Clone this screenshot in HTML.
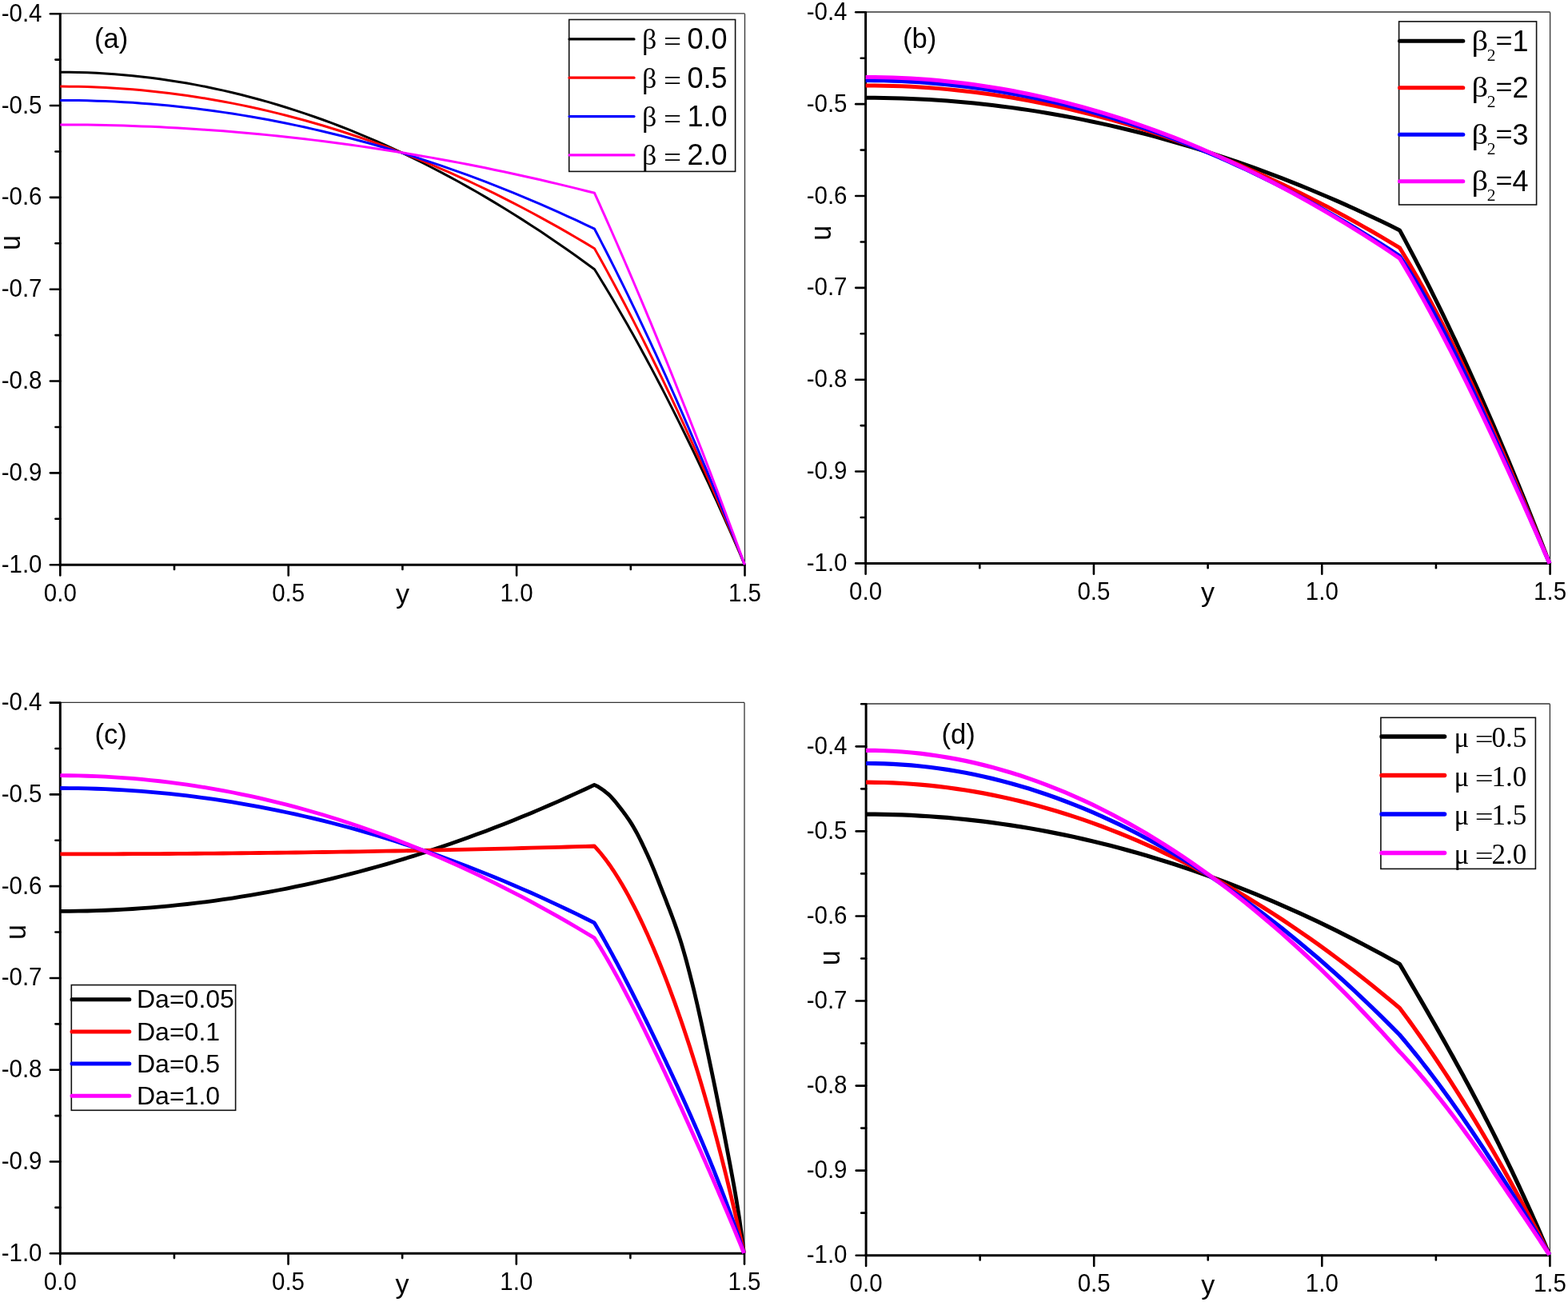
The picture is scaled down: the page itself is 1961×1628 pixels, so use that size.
<!DOCTYPE html><html><head><meta charset="utf-8"><title>Velocity profiles u(y)</title><style>
html,body{margin:0;padding:0;background:#fff;width:1961px;height:1628px;overflow:hidden}
svg{display:block} .tl{font-family:"Liberation Sans", Arial, sans-serif;font-size:29.5px;fill:#000} .ax{font-family:"Liberation Sans", Arial, sans-serif;font-size:34px;fill:#000} .pl{font-family:"Liberation Sans", Arial, sans-serif;font-size:34.5px;fill:#000}
.lg{font-family:"Liberation Sans", Arial, sans-serif;font-size:36px;fill:#000} .sy{font-family:"Liberation Serif", "Times New Roman", serif;font-size:36px;fill:#000}
</style></head><body>
<svg width="1961" height="1628" viewBox="0 0 1961 1628">
<rect x="0" y="0" width="1961" height="1628" fill="#fff"/>
<line x1="75.3" y1="16.9" x2="931.5" y2="16.9" stroke="#333" stroke-width="1.3"/>
<line x1="931.5" y1="17.2" x2="931.5" y2="706.2" stroke="#333" stroke-width="1.3"/>
<line x1="62.9" y1="17.20" x2="75.3" y2="17.20" stroke="#000" stroke-width="2.6" stroke-linecap="round"/>
<text transform="translate(52.5,26.7) scale(1,1.08)" class="tl" text-anchor="end">-0.4</text>
<line x1="62.9" y1="132.03" x2="75.3" y2="132.03" stroke="#000" stroke-width="2.6" stroke-linecap="round"/>
<text transform="translate(52.5,141.5) scale(1,1.08)" class="tl" text-anchor="end">-0.5</text>
<line x1="62.9" y1="246.87" x2="75.3" y2="246.87" stroke="#000" stroke-width="2.6" stroke-linecap="round"/>
<text transform="translate(52.5,256.4) scale(1,1.08)" class="tl" text-anchor="end">-0.6</text>
<line x1="62.9" y1="361.70" x2="75.3" y2="361.70" stroke="#000" stroke-width="2.6" stroke-linecap="round"/>
<text transform="translate(52.5,371.2) scale(1,1.08)" class="tl" text-anchor="end">-0.7</text>
<line x1="62.9" y1="476.53" x2="75.3" y2="476.53" stroke="#000" stroke-width="2.6" stroke-linecap="round"/>
<text transform="translate(52.5,486.0) scale(1,1.08)" class="tl" text-anchor="end">-0.8</text>
<line x1="62.9" y1="591.37" x2="75.3" y2="591.37" stroke="#000" stroke-width="2.6" stroke-linecap="round"/>
<text transform="translate(52.5,600.9) scale(1,1.08)" class="tl" text-anchor="end">-0.9</text>
<line x1="62.9" y1="706.20" x2="75.3" y2="706.20" stroke="#000" stroke-width="2.6" stroke-linecap="round"/>
<text transform="translate(52.5,715.7) scale(1,1.08)" class="tl" text-anchor="end">-1.0</text>
<line x1="69.4" y1="74.62" x2="75.3" y2="74.62" stroke="#000" stroke-width="2.6" stroke-linecap="round"/>
<line x1="69.4" y1="189.45" x2="75.3" y2="189.45" stroke="#000" stroke-width="2.6" stroke-linecap="round"/>
<line x1="69.4" y1="304.28" x2="75.3" y2="304.28" stroke="#000" stroke-width="2.6" stroke-linecap="round"/>
<line x1="69.4" y1="419.12" x2="75.3" y2="419.12" stroke="#000" stroke-width="2.6" stroke-linecap="round"/>
<line x1="69.4" y1="533.95" x2="75.3" y2="533.95" stroke="#000" stroke-width="2.6" stroke-linecap="round"/>
<line x1="69.4" y1="648.78" x2="75.3" y2="648.78" stroke="#000" stroke-width="2.6" stroke-linecap="round"/>
<line x1="75.30" y1="706.2" x2="75.30" y2="719.5" stroke="#000" stroke-width="2.6" stroke-linecap="round"/>
<text transform="translate(75.3,751.8) scale(1,1.08)" class="tl" text-anchor="middle">0.0</text>
<line x1="360.70" y1="706.2" x2="360.70" y2="719.5" stroke="#000" stroke-width="2.6" stroke-linecap="round"/>
<text transform="translate(360.7,751.8) scale(1,1.08)" class="tl" text-anchor="middle">0.5</text>
<line x1="646.10" y1="706.2" x2="646.10" y2="719.5" stroke="#000" stroke-width="2.6" stroke-linecap="round"/>
<text transform="translate(646.1,751.8) scale(1,1.08)" class="tl" text-anchor="middle">1.0</text>
<line x1="931.50" y1="706.2" x2="931.50" y2="719.5" stroke="#000" stroke-width="2.6" stroke-linecap="round"/>
<text transform="translate(931.5,751.8) scale(1,1.08)" class="tl" text-anchor="middle">1.5</text>
<line x1="218.00" y1="706.2" x2="218.00" y2="712.0" stroke="#000" stroke-width="2.6" stroke-linecap="round"/>
<line x1="503.40" y1="706.2" x2="503.40" y2="712.0" stroke="#000" stroke-width="2.6" stroke-linecap="round"/>
<line x1="788.80" y1="706.2" x2="788.80" y2="712.0" stroke="#000" stroke-width="2.6" stroke-linecap="round"/>
<line x1="75.3" y1="16.7" x2="75.3" y2="707.5" stroke="#000" stroke-width="3"/>
<line x1="73.8" y1="706.2" x2="931.5" y2="706.2" stroke="#000" stroke-width="3"/>
<text x="503.4" y="754" class="ax" text-anchor="middle">y</text>
<text class="ax" text-anchor="middle" transform="translate(25.1,303.45) rotate(-90) scale(1,1.06)">u</text>
<text x="118" y="59.5" class="pl">(a)</text>
<path d="M75.30,90.20 L86.63,90.27 L97.95,90.48 L109.28,90.84 L120.60,91.33 L131.93,91.97 L143.25,92.75 L154.58,93.67 L165.90,94.73 L177.23,95.94 L188.55,97.28 L199.88,98.77 L211.21,100.40 L222.53,102.17 L233.86,104.08 L245.18,106.13 L256.51,108.33 L267.83,110.66 L279.16,113.14 L290.48,115.76 L301.81,118.53 L313.13,121.43 L324.46,124.47 L335.78,127.66 L347.11,130.99 L358.44,134.46 L369.76,138.07 L381.09,141.82 L392.41,145.72 L403.74,149.75 L415.06,153.93 L426.39,158.25 L437.71,162.71 L449.04,167.32 L460.36,172.06 L471.69,176.95 L483.02,181.97 L494.34,187.14 L505.67,192.45 L516.99,197.91 L528.32,203.50 L539.64,209.24 L550.97,215.11 L562.29,221.13 L573.62,227.29 L584.94,233.60 L596.27,240.04 L607.59,246.63 L618.92,253.35 L630.25,260.22 L641.57,267.23 L652.90,274.38 L664.22,281.68 L675.55,289.11 L686.87,296.69 L698.20,304.41 L709.52,312.27 L720.85,320.27 L732.17,328.41 L743.50,336.70 L746.68,341.82 L749.87,346.97 L753.05,352.17 L756.23,357.40 L759.42,362.68 L762.60,367.99 L765.78,373.35 L768.96,378.74 L772.15,384.17 L775.33,389.64 L778.51,395.15 L781.70,400.70 L784.88,406.29 L788.06,411.92 L791.25,417.59 L794.43,423.30 L797.61,429.05 L800.79,434.83 L803.98,440.66 L807.16,446.52 L810.34,452.43 L813.53,458.37 L816.71,464.36 L819.89,470.38 L823.08,476.44 L826.26,482.54 L829.44,488.68 L832.63,494.86 L835.81,501.08 L838.99,507.34 L842.17,513.64 L845.36,519.98 L848.54,526.36 L851.72,532.78 L854.91,539.23 L858.09,545.73 L861.27,552.26 L864.46,558.84 L867.64,565.45 L870.82,572.10 L874.01,578.80 L877.19,585.53 L880.37,592.30 L883.55,599.11 L886.74,605.96 L889.92,612.85 L893.10,619.78 L896.29,626.75 L899.47,633.76 L902.65,640.80 L905.84,647.89 L909.02,655.02 L912.20,662.18 L915.38,669.39 L918.57,676.63 L921.75,683.91 L924.93,691.24 L928.12,698.60 L931.30,706.00" fill="none" stroke="#000000" stroke-width="3" stroke-linejoin="round"/>
<path d="M75.30,108.10 L86.63,108.16 L97.95,108.33 L109.28,108.62 L120.60,109.03 L131.93,109.56 L143.25,110.20 L154.58,110.95 L165.90,111.82 L177.23,112.81 L188.55,113.92 L199.88,115.14 L211.21,116.48 L222.53,117.94 L233.86,119.51 L245.18,121.20 L256.51,123.00 L267.83,124.92 L279.16,126.96 L290.48,129.11 L301.81,131.38 L313.13,133.77 L324.46,136.27 L335.78,138.89 L347.11,141.62 L358.44,144.48 L369.76,147.44 L381.09,150.53 L392.41,153.73 L403.74,157.05 L415.06,160.48 L426.39,164.03 L437.71,167.70 L449.04,171.48 L460.36,175.38 L471.69,179.40 L483.02,183.53 L494.34,187.78 L505.67,192.14 L516.99,196.62 L528.32,201.22 L539.64,205.94 L550.97,210.77 L562.29,215.71 L573.62,220.78 L584.94,225.96 L596.27,231.25 L607.59,236.67 L618.92,242.20 L630.25,247.84 L641.57,253.60 L652.90,259.48 L664.22,265.48 L675.55,271.59 L686.87,277.82 L698.20,284.16 L709.52,290.62 L720.85,297.20 L732.17,303.89 L743.50,310.70 L746.68,316.37 L749.87,322.07 L753.05,327.80 L756.23,333.57 L759.42,339.38 L762.60,345.23 L765.78,351.10 L768.96,357.02 L772.15,362.97 L775.33,368.96 L778.51,374.98 L781.70,381.04 L784.88,387.13 L788.06,393.26 L791.25,399.42 L794.43,405.62 L797.61,411.86 L800.79,418.13 L803.98,424.44 L807.16,430.78 L810.34,437.16 L813.53,443.58 L816.71,450.03 L819.89,456.51 L823.08,463.03 L826.26,469.59 L829.44,476.18 L832.63,482.81 L835.81,489.48 L838.99,496.18 L842.17,502.91 L845.36,509.68 L848.54,516.49 L851.72,523.33 L854.91,530.21 L858.09,537.13 L861.27,544.08 L864.46,551.06 L867.64,558.08 L870.82,565.14 L874.01,572.23 L877.19,579.36 L880.37,586.52 L883.55,593.72 L886.74,600.96 L889.92,608.23 L893.10,615.54 L896.29,622.88 L899.47,630.26 L902.65,637.67 L905.84,645.12 L909.02,652.60 L912.20,660.13 L915.38,667.68 L918.57,675.27 L921.75,682.90 L924.93,690.57 L928.12,698.27 L931.30,706.00" fill="none" stroke="#ff0000" stroke-width="3" stroke-linejoin="round"/>
<path d="M75.30,125.40 L86.63,125.45 L97.95,125.58 L109.28,125.82 L120.60,126.14 L131.93,126.55 L143.25,127.06 L154.58,127.66 L165.90,128.36 L177.23,129.14 L188.55,130.02 L199.88,130.99 L211.21,132.05 L222.53,133.21 L233.86,134.45 L245.18,135.79 L256.51,137.23 L267.83,138.75 L279.16,140.37 L290.48,142.08 L301.81,143.88 L313.13,145.77 L324.46,147.76 L335.78,149.84 L347.11,152.01 L358.44,154.27 L369.76,156.63 L381.09,159.08 L392.41,161.62 L403.74,164.25 L415.06,166.97 L426.39,169.79 L437.71,172.70 L449.04,175.70 L460.36,178.80 L471.69,181.99 L483.02,185.27 L494.34,188.64 L505.67,192.10 L516.99,195.66 L528.32,199.31 L539.64,203.05 L550.97,206.89 L562.29,210.81 L573.62,214.83 L584.94,218.94 L596.27,223.15 L607.59,227.44 L618.92,231.83 L630.25,236.31 L641.57,240.88 L652.90,245.55 L664.22,250.31 L675.55,255.16 L686.87,260.10 L698.20,265.14 L709.52,270.26 L720.85,275.48 L732.17,280.80 L743.50,286.20 L746.68,292.29 L749.87,298.42 L753.05,304.59 L756.23,310.79 L759.42,317.03 L762.60,323.30 L765.78,329.60 L768.96,335.94 L772.15,342.32 L775.33,348.73 L778.51,355.18 L781.70,361.66 L784.88,368.18 L788.06,374.73 L791.25,381.32 L794.43,387.94 L797.61,394.60 L800.79,401.29 L803.98,408.02 L807.16,414.78 L810.34,421.58 L813.53,428.41 L816.71,435.28 L819.89,442.19 L823.08,449.13 L826.26,456.10 L829.44,463.11 L832.63,470.16 L835.81,477.24 L838.99,484.35 L842.17,491.50 L845.36,498.69 L848.54,505.91 L851.72,513.16 L854.91,520.46 L858.09,527.78 L861.27,535.14 L864.46,542.54 L867.64,549.97 L870.82,557.44 L874.01,564.94 L877.19,572.48 L880.37,580.05 L883.55,587.66 L886.74,595.30 L889.92,602.98 L893.10,610.69 L896.29,618.44 L899.47,626.23 L902.65,634.05 L905.84,641.90 L909.02,649.79 L912.20,657.71 L915.38,665.67 L918.57,673.67 L921.75,681.70 L924.93,689.76 L928.12,697.86 L931.30,706.00" fill="none" stroke="#0000ff" stroke-width="3" stroke-linejoin="round"/>
<path d="M75.30,155.90 L86.63,155.92 L97.95,156.00 L109.28,156.12 L120.60,156.29 L131.93,156.51 L143.25,156.78 L154.58,157.10 L165.90,157.47 L177.23,157.89 L188.55,158.35 L199.88,158.87 L211.21,159.43 L222.53,160.05 L233.86,160.71 L245.18,161.42 L256.51,162.18 L267.83,162.99 L279.16,163.85 L290.48,164.76 L301.81,165.71 L313.13,166.72 L324.46,167.77 L335.78,168.88 L347.11,170.03 L358.44,171.23 L369.76,172.48 L381.09,173.78 L392.41,175.13 L403.74,176.53 L415.06,177.98 L426.39,179.48 L437.71,181.02 L449.04,182.62 L460.36,184.26 L471.69,185.95 L483.02,187.70 L494.34,189.49 L505.67,191.33 L516.99,193.21 L528.32,195.15 L539.64,197.14 L550.97,199.18 L562.29,201.26 L573.62,203.40 L584.94,205.58 L596.27,207.81 L607.59,210.09 L618.92,212.42 L630.25,214.80 L641.57,217.23 L652.90,219.71 L664.22,222.24 L675.55,224.81 L686.87,227.44 L698.20,230.11 L709.52,232.84 L720.85,235.61 L732.17,238.43 L743.50,241.30 L746.68,248.35 L749.87,255.42 L753.05,262.53 L756.23,269.66 L759.42,276.82 L762.60,284.01 L765.78,291.23 L768.96,298.48 L772.15,305.76 L775.33,313.06 L778.51,320.39 L781.70,327.75 L784.88,335.15 L788.06,342.56 L791.25,350.01 L794.43,357.49 L797.61,364.99 L800.79,372.53 L803.98,380.09 L807.16,387.68 L810.34,395.30 L813.53,402.94 L816.71,410.62 L819.89,418.33 L823.08,426.06 L826.26,433.82 L829.44,441.61 L832.63,449.43 L835.81,457.28 L838.99,465.15 L842.17,473.06 L845.36,480.99 L848.54,488.96 L851.72,496.95 L854.91,504.96 L858.09,513.01 L861.27,521.09 L864.46,529.19 L867.64,537.33 L870.82,545.49 L874.01,553.68 L877.19,561.90 L880.37,570.15 L883.55,578.42 L886.74,586.73 L889.92,595.06 L893.10,603.42 L896.29,611.82 L899.47,620.23 L902.65,628.68 L905.84,637.16 L909.02,645.66 L912.20,654.20 L915.38,662.76 L918.57,671.35 L921.75,679.97 L924.93,688.62 L928.12,697.29 L931.30,706.00" fill="none" stroke="#ff00ff" stroke-width="3" stroke-linejoin="round"/>
<rect x="711.7" y="24.5" width="207.9" height="189.9" fill="#fff" stroke="#111" stroke-width="1.6"/>
<line x1="712" y1="48.9" x2="793" y2="48.9" stroke="#000000" stroke-width="3.2" stroke-linecap="round"/>
<text x="803" y="61.2" class="sy">β</text>
<text transform="translate(830,64.2) scale(1.09,1)" class="sy">=</text>
<text x="859.4" y="61.2" class="lg">0.0</text>
<line x1="712" y1="97.2" x2="793" y2="97.2" stroke="#ff0000" stroke-width="3.2" stroke-linecap="round"/>
<text x="803" y="109.5" class="sy">β</text>
<text transform="translate(830,112.5) scale(1.09,1)" class="sy">=</text>
<text x="859.4" y="109.5" class="lg">0.5</text>
<line x1="712" y1="145.6" x2="793" y2="145.6" stroke="#0000ff" stroke-width="3.2" stroke-linecap="round"/>
<text x="803" y="157.9" class="sy">β</text>
<text transform="translate(830,160.9) scale(1.09,1)" class="sy">=</text>
<text x="859.4" y="157.9" class="lg">1.0</text>
<line x1="712" y1="193.9" x2="793" y2="193.9" stroke="#ff00ff" stroke-width="3.2" stroke-linecap="round"/>
<text x="803" y="206.2" class="sy">β</text>
<text transform="translate(830,209.2) scale(1.09,1)" class="sy">=</text>
<text x="859.4" y="206.2" class="lg">2.0</text>
<line x1="1082.6" y1="15.0" x2="1938.6" y2="15.0" stroke="#333" stroke-width="1.3"/>
<line x1="1938.6" y1="15.3" x2="1938.6" y2="704.4" stroke="#333" stroke-width="1.3"/>
<line x1="1070.2" y1="15.30" x2="1082.6" y2="15.30" stroke="#000" stroke-width="2.6" stroke-linecap="round"/>
<text transform="translate(1059.5,24.8) scale(1,1.08)" class="tl" text-anchor="end">-0.4</text>
<line x1="1070.2" y1="130.15" x2="1082.6" y2="130.15" stroke="#000" stroke-width="2.6" stroke-linecap="round"/>
<text transform="translate(1059.5,139.6) scale(1,1.08)" class="tl" text-anchor="end">-0.5</text>
<line x1="1070.2" y1="245.00" x2="1082.6" y2="245.00" stroke="#000" stroke-width="2.6" stroke-linecap="round"/>
<text transform="translate(1059.5,254.5) scale(1,1.08)" class="tl" text-anchor="end">-0.6</text>
<line x1="1070.2" y1="359.85" x2="1082.6" y2="359.85" stroke="#000" stroke-width="2.6" stroke-linecap="round"/>
<text transform="translate(1059.5,369.3) scale(1,1.08)" class="tl" text-anchor="end">-0.7</text>
<line x1="1070.2" y1="474.70" x2="1082.6" y2="474.70" stroke="#000" stroke-width="2.6" stroke-linecap="round"/>
<text transform="translate(1059.5,484.2) scale(1,1.08)" class="tl" text-anchor="end">-0.8</text>
<line x1="1070.2" y1="589.55" x2="1082.6" y2="589.55" stroke="#000" stroke-width="2.6" stroke-linecap="round"/>
<text transform="translate(1059.5,599.0) scale(1,1.08)" class="tl" text-anchor="end">-0.9</text>
<line x1="1070.2" y1="704.40" x2="1082.6" y2="704.40" stroke="#000" stroke-width="2.6" stroke-linecap="round"/>
<text transform="translate(1059.5,713.9) scale(1,1.08)" class="tl" text-anchor="end">-1.0</text>
<line x1="1076.7" y1="72.72" x2="1082.6" y2="72.72" stroke="#000" stroke-width="2.6" stroke-linecap="round"/>
<line x1="1076.7" y1="187.58" x2="1082.6" y2="187.58" stroke="#000" stroke-width="2.6" stroke-linecap="round"/>
<line x1="1076.7" y1="302.43" x2="1082.6" y2="302.43" stroke="#000" stroke-width="2.6" stroke-linecap="round"/>
<line x1="1076.7" y1="417.27" x2="1082.6" y2="417.27" stroke="#000" stroke-width="2.6" stroke-linecap="round"/>
<line x1="1076.7" y1="532.12" x2="1082.6" y2="532.12" stroke="#000" stroke-width="2.6" stroke-linecap="round"/>
<line x1="1076.7" y1="646.97" x2="1082.6" y2="646.97" stroke="#000" stroke-width="2.6" stroke-linecap="round"/>
<line x1="1082.60" y1="704.4" x2="1082.60" y2="717.7" stroke="#000" stroke-width="2.6" stroke-linecap="round"/>
<text transform="translate(1082.6,750.3) scale(1,1.08)" class="tl" text-anchor="middle">0.0</text>
<line x1="1367.93" y1="704.4" x2="1367.93" y2="717.7" stroke="#000" stroke-width="2.6" stroke-linecap="round"/>
<text transform="translate(1367.9,750.3) scale(1,1.08)" class="tl" text-anchor="middle">0.5</text>
<line x1="1653.27" y1="704.4" x2="1653.27" y2="717.7" stroke="#000" stroke-width="2.6" stroke-linecap="round"/>
<text transform="translate(1653.3,750.3) scale(1,1.08)" class="tl" text-anchor="middle">1.0</text>
<line x1="1938.60" y1="704.4" x2="1938.60" y2="717.7" stroke="#000" stroke-width="2.6" stroke-linecap="round"/>
<text transform="translate(1938.6,750.3) scale(1,1.08)" class="tl" text-anchor="middle">1.5</text>
<line x1="1225.27" y1="704.4" x2="1225.27" y2="710.2" stroke="#000" stroke-width="2.6" stroke-linecap="round"/>
<line x1="1510.60" y1="704.4" x2="1510.60" y2="710.2" stroke="#000" stroke-width="2.6" stroke-linecap="round"/>
<line x1="1795.93" y1="704.4" x2="1795.93" y2="710.2" stroke="#000" stroke-width="2.6" stroke-linecap="round"/>
<line x1="1082.6" y1="14.8" x2="1082.6" y2="705.7" stroke="#000" stroke-width="3"/>
<line x1="1081.1" y1="704.4" x2="1938.6" y2="704.4" stroke="#000" stroke-width="3"/>
<text x="1510.6" y="752" class="ax" text-anchor="middle">y</text>
<text class="ax" text-anchor="middle" transform="translate(1038.7,291.35) rotate(-90) scale(1,1.06)">u</text>
<text x="1129" y="60" class="pl">(b)</text>
<path d="M1082.60,122.20 L1093.92,122.25 L1105.24,122.39 L1116.56,122.63 L1127.88,122.96 L1139.20,123.39 L1150.52,123.91 L1161.84,124.53 L1173.16,125.25 L1184.48,126.06 L1195.80,126.96 L1207.12,127.96 L1218.44,129.05 L1229.76,130.24 L1241.08,131.53 L1252.41,132.91 L1263.73,134.39 L1275.05,135.96 L1286.37,137.62 L1297.69,139.38 L1309.01,141.24 L1320.33,143.19 L1331.65,145.24 L1342.97,147.38 L1354.29,149.62 L1365.61,151.95 L1376.93,154.38 L1388.25,156.90 L1399.57,159.52 L1410.89,162.23 L1422.21,165.04 L1433.53,167.94 L1444.85,170.94 L1456.17,174.04 L1467.49,177.23 L1478.81,180.51 L1490.13,183.89 L1501.45,187.37 L1512.77,190.94 L1524.09,194.60 L1535.41,198.36 L1546.73,202.22 L1558.05,206.17 L1569.37,210.21 L1580.69,214.36 L1592.02,218.59 L1603.34,222.92 L1614.66,227.35 L1625.98,231.87 L1637.30,236.49 L1648.62,241.20 L1659.94,246.01 L1671.26,250.91 L1682.58,255.91 L1693.90,261.01 L1705.22,266.19 L1716.54,271.48 L1727.86,276.86 L1739.18,282.33 L1750.50,287.90 L1753.68,293.76 L1756.86,299.67 L1760.03,305.61 L1763.21,311.60 L1766.39,317.63 L1769.57,323.70 L1772.75,329.81 L1775.92,335.96 L1779.10,342.16 L1782.28,348.39 L1785.46,354.67 L1788.64,360.98 L1791.81,367.34 L1794.99,373.74 L1798.17,380.18 L1801.35,386.66 L1804.53,393.19 L1807.70,399.75 L1810.88,406.36 L1814.06,413.01 L1817.24,419.70 L1820.42,426.43 L1823.59,433.20 L1826.77,440.01 L1829.95,446.86 L1833.13,453.76 L1836.31,460.70 L1839.48,467.67 L1842.66,474.69 L1845.84,481.76 L1849.02,488.86 L1852.19,496.00 L1855.37,503.19 L1858.55,510.42 L1861.73,517.68 L1864.91,524.99 L1868.08,532.35 L1871.26,539.74 L1874.44,547.17 L1877.62,554.65 L1880.80,562.17 L1883.97,569.73 L1887.15,577.33 L1890.33,584.97 L1893.51,592.65 L1896.69,600.38 L1899.86,608.15 L1903.04,615.95 L1906.22,623.80 L1909.40,631.70 L1912.58,639.63 L1915.75,647.61 L1918.93,655.62 L1922.11,663.68 L1925.29,671.78 L1928.47,679.92 L1931.64,688.11 L1934.82,696.33 L1938.00,704.60" fill="none" stroke="#000000" stroke-width="5" stroke-linejoin="round"/>
<path d="M1082.60,106.90 L1093.92,106.96 L1105.24,107.13 L1116.56,107.42 L1127.88,107.83 L1139.20,108.36 L1150.52,109.00 L1161.84,109.76 L1173.16,110.63 L1184.48,111.62 L1195.80,112.73 L1207.12,113.96 L1218.44,115.30 L1229.76,116.76 L1241.08,118.33 L1252.41,120.02 L1263.73,121.83 L1275.05,123.75 L1286.37,125.79 L1297.69,127.95 L1309.01,130.23 L1320.33,132.62 L1331.65,135.13 L1342.97,137.75 L1354.29,140.49 L1365.61,143.35 L1376.93,146.32 L1388.25,149.41 L1399.57,152.62 L1410.89,155.94 L1422.21,159.38 L1433.53,162.94 L1444.85,166.62 L1456.17,170.41 L1467.49,174.31 L1478.81,178.34 L1490.13,182.48 L1501.45,186.74 L1512.77,191.11 L1524.09,195.60 L1535.41,200.21 L1546.73,204.93 L1558.05,209.77 L1569.37,214.73 L1580.69,219.80 L1592.02,224.99 L1603.34,230.30 L1614.66,235.72 L1625.98,241.26 L1637.30,246.92 L1648.62,252.69 L1659.94,258.58 L1671.26,264.59 L1682.58,270.71 L1693.90,276.95 L1705.22,283.31 L1716.54,289.78 L1727.86,296.37 L1739.18,303.08 L1750.50,309.90 L1753.68,315.03 L1756.86,320.22 L1760.03,325.49 L1763.21,330.83 L1766.39,336.24 L1769.57,341.72 L1772.75,347.27 L1775.92,352.88 L1779.10,358.56 L1782.28,364.30 L1785.46,370.11 L1788.64,375.98 L1791.81,381.91 L1794.99,387.90 L1798.17,393.95 L1801.35,400.06 L1804.53,406.23 L1807.70,412.46 L1810.88,418.74 L1814.06,425.08 L1817.24,431.47 L1820.42,437.91 L1823.59,444.40 L1826.77,450.95 L1829.95,457.55 L1833.13,464.19 L1836.31,470.88 L1839.48,477.63 L1842.66,484.41 L1845.84,491.24 L1849.02,498.12 L1852.19,505.04 L1855.37,512.00 L1858.55,519.00 L1861.73,526.04 L1864.91,533.13 L1868.08,540.25 L1871.26,547.40 L1874.44,554.60 L1877.62,561.83 L1880.80,569.09 L1883.97,576.39 L1887.15,583.72 L1890.33,591.08 L1893.51,598.47 L1896.69,605.89 L1899.86,613.34 L1903.04,620.82 L1906.22,628.32 L1909.40,635.85 L1912.58,643.40 L1915.75,650.98 L1918.93,658.58 L1922.11,666.20 L1925.29,673.84 L1928.47,681.51 L1931.64,689.19 L1934.82,696.88 L1938.00,704.60" fill="none" stroke="#ff0000" stroke-width="5" stroke-linejoin="round"/>
<path d="M1082.60,100.60 L1093.92,100.66 L1105.24,100.85 L1116.56,101.17 L1127.88,101.61 L1139.20,102.18 L1150.52,102.87 L1161.84,103.69 L1173.16,104.64 L1184.48,105.71 L1195.80,106.91 L1207.12,108.23 L1218.44,109.68 L1229.76,111.26 L1241.08,112.96 L1252.41,114.79 L1263.73,116.74 L1275.05,118.82 L1286.37,121.03 L1297.69,123.36 L1309.01,125.82 L1320.33,128.41 L1331.65,131.12 L1342.97,133.96 L1354.29,136.92 L1365.61,140.01 L1376.93,143.23 L1388.25,146.57 L1399.57,150.04 L1410.89,153.63 L1422.21,157.35 L1433.53,161.20 L1444.85,165.17 L1456.17,169.27 L1467.49,173.49 L1478.81,177.84 L1490.13,182.32 L1501.45,186.92 L1512.77,191.65 L1524.09,196.51 L1535.41,201.49 L1546.73,206.60 L1558.05,211.83 L1569.37,217.19 L1580.69,222.68 L1592.02,228.29 L1603.34,234.03 L1614.66,239.89 L1625.98,245.88 L1637.30,252.00 L1648.62,258.24 L1659.94,264.61 L1671.26,271.11 L1682.58,277.73 L1693.90,284.47 L1705.22,291.35 L1716.54,298.35 L1727.86,305.47 L1739.18,312.72 L1750.50,320.10 L1753.68,324.84 L1756.86,329.67 L1760.03,334.59 L1763.21,339.61 L1766.39,344.71 L1769.57,349.91 L1772.75,355.18 L1775.92,360.54 L1779.10,365.99 L1782.28,371.51 L1785.46,377.11 L1788.64,382.79 L1791.81,388.55 L1794.99,394.38 L1798.17,400.28 L1801.35,406.25 L1804.53,412.29 L1807.70,418.39 L1810.88,424.56 L1814.06,430.80 L1817.24,437.09 L1820.42,443.44 L1823.59,449.86 L1826.77,456.32 L1829.95,462.85 L1833.13,469.42 L1836.31,476.05 L1839.48,482.72 L1842.66,489.45 L1845.84,496.22 L1849.02,503.03 L1852.19,509.88 L1855.37,516.78 L1858.55,523.71 L1861.73,530.68 L1864.91,537.69 L1868.08,544.73 L1871.26,551.80 L1874.44,558.91 L1877.62,566.04 L1880.80,573.19 L1883.97,580.38 L1887.15,587.58 L1890.33,594.81 L1893.51,602.05 L1896.69,609.32 L1899.86,616.60 L1903.04,623.89 L1906.22,631.20 L1909.40,638.52 L1912.58,645.85 L1915.75,653.18 L1918.93,660.53 L1922.11,667.87 L1925.29,675.22 L1928.47,682.57 L1931.64,689.92 L1934.82,697.26 L1938.00,704.60" fill="none" stroke="#0000ff" stroke-width="5" stroke-linejoin="round"/>
<path d="M1082.60,96.40 L1093.92,96.47 L1105.24,96.66 L1116.56,96.99 L1127.88,97.44 L1139.20,98.03 L1150.52,98.74 L1161.84,99.59 L1173.16,100.57 L1184.48,101.68 L1195.80,102.91 L1207.12,104.28 L1218.44,105.78 L1229.76,107.41 L1241.08,109.16 L1252.41,111.05 L1263.73,113.07 L1275.05,115.22 L1286.37,117.50 L1297.69,119.91 L1309.01,122.45 L1320.33,125.12 L1331.65,127.92 L1342.97,130.85 L1354.29,133.91 L1365.61,137.10 L1376.93,140.42 L1388.25,143.88 L1399.57,147.46 L1410.89,151.17 L1422.21,155.01 L1433.53,158.99 L1444.85,163.09 L1456.17,167.32 L1467.49,171.68 L1478.81,176.18 L1490.13,180.80 L1501.45,185.56 L1512.77,190.44 L1524.09,195.46 L1535.41,200.60 L1546.73,205.88 L1558.05,211.28 L1569.37,216.82 L1580.69,222.48 L1592.02,228.28 L1603.34,234.20 L1614.66,240.26 L1625.98,246.45 L1637.30,252.77 L1648.62,259.21 L1659.94,265.79 L1671.26,272.50 L1682.58,279.34 L1693.90,286.30 L1705.22,293.40 L1716.54,300.63 L1727.86,307.99 L1739.18,315.48 L1750.50,323.10 L1753.68,328.40 L1756.86,333.75 L1760.03,339.15 L1763.21,344.61 L1766.39,350.11 L1769.57,355.67 L1772.75,361.28 L1775.92,366.94 L1779.10,372.65 L1782.28,378.40 L1785.46,384.21 L1788.64,390.05 L1791.81,395.95 L1794.99,401.89 L1798.17,407.88 L1801.35,413.91 L1804.53,419.98 L1807.70,426.09 L1810.88,432.25 L1814.06,438.45 L1817.24,444.69 L1820.42,450.97 L1823.59,457.28 L1826.77,463.64 L1829.95,470.03 L1833.13,476.46 L1836.31,482.92 L1839.48,489.43 L1842.66,495.96 L1845.84,502.53 L1849.02,509.13 L1852.19,515.77 L1855.37,522.43 L1858.55,529.13 L1861.73,535.86 L1864.91,542.62 L1868.08,549.41 L1871.26,556.22 L1874.44,563.06 L1877.62,569.93 L1880.80,576.83 L1883.97,583.75 L1887.15,590.69 L1890.33,597.66 L1893.51,604.66 L1896.69,611.67 L1899.86,618.71 L1903.04,625.77 L1906.22,632.85 L1909.40,639.94 L1912.58,647.06 L1915.75,654.20 L1918.93,661.35 L1922.11,668.52 L1925.29,675.71 L1928.47,682.91 L1931.64,690.13 L1934.82,697.36 L1938.00,704.60" fill="none" stroke="#ff00ff" stroke-width="5" stroke-linejoin="round"/>
<rect x="1749.6" y="26.9" width="172" height="229.1" fill="#fff" stroke="#111" stroke-width="1.6"/>
<line x1="1750.5" y1="51.2" x2="1829.8" y2="51.2" stroke="#000000" stroke-width="5" stroke-linecap="round"/>
<text transform="translate(1840.6,62.8) scale(1.13,1)" class="sy">β</text>
<text x="1859.7" y="75.6" class="sy" style="font-size:21.5px">2</text>
<text transform="translate(1870.5,60.7) scale(1,0.85)" class="lg">=</text>
<text x="1891.5" y="63.8" class="lg">1</text>
<line x1="1750.5" y1="109.7" x2="1829.8" y2="109.7" stroke="#ff0000" stroke-width="5" stroke-linecap="round"/>
<text transform="translate(1840.6,121.3) scale(1.13,1)" class="sy">β</text>
<text x="1859.7" y="134.1" class="sy" style="font-size:21.5px">2</text>
<text transform="translate(1870.5,119.2) scale(1,0.85)" class="lg">=</text>
<text x="1891.5" y="122.3" class="lg">2</text>
<line x1="1750.5" y1="168.3" x2="1829.8" y2="168.3" stroke="#0000ff" stroke-width="5" stroke-linecap="round"/>
<text transform="translate(1840.6,179.9) scale(1.13,1)" class="sy">β</text>
<text x="1859.7" y="192.7" class="sy" style="font-size:21.5px">2</text>
<text transform="translate(1870.5,177.8) scale(1,0.85)" class="lg">=</text>
<text x="1891.5" y="180.9" class="lg">3</text>
<line x1="1750.5" y1="226.8" x2="1829.8" y2="226.8" stroke="#ff00ff" stroke-width="5" stroke-linecap="round"/>
<text transform="translate(1840.6,238.4) scale(1.13,1)" class="sy">β</text>
<text x="1859.7" y="251.2" class="sy" style="font-size:21.5px">2</text>
<text transform="translate(1870.5,236.3) scale(1,0.85)" class="lg">=</text>
<text x="1891.5" y="239.4" class="lg">4</text>
<line x1="75.3" y1="878.3" x2="931.0" y2="878.3" stroke="#333" stroke-width="1.3"/>
<line x1="931.0" y1="878.6" x2="931.0" y2="1567.3" stroke="#333" stroke-width="1.3"/>
<line x1="62.9" y1="878.60" x2="75.3" y2="878.60" stroke="#000" stroke-width="2.6" stroke-linecap="round"/>
<text transform="translate(52.5,888.1) scale(1,1.08)" class="tl" text-anchor="end">-0.4</text>
<line x1="62.9" y1="993.38" x2="75.3" y2="993.38" stroke="#000" stroke-width="2.6" stroke-linecap="round"/>
<text transform="translate(52.5,1002.9) scale(1,1.08)" class="tl" text-anchor="end">-0.5</text>
<line x1="62.9" y1="1108.17" x2="75.3" y2="1108.17" stroke="#000" stroke-width="2.6" stroke-linecap="round"/>
<text transform="translate(52.5,1117.7) scale(1,1.08)" class="tl" text-anchor="end">-0.6</text>
<line x1="62.9" y1="1222.95" x2="75.3" y2="1222.95" stroke="#000" stroke-width="2.6" stroke-linecap="round"/>
<text transform="translate(52.5,1232.4) scale(1,1.08)" class="tl" text-anchor="end">-0.7</text>
<line x1="62.9" y1="1337.73" x2="75.3" y2="1337.73" stroke="#000" stroke-width="2.6" stroke-linecap="round"/>
<text transform="translate(52.5,1347.2) scale(1,1.08)" class="tl" text-anchor="end">-0.8</text>
<line x1="62.9" y1="1452.52" x2="75.3" y2="1452.52" stroke="#000" stroke-width="2.6" stroke-linecap="round"/>
<text transform="translate(52.5,1462.0) scale(1,1.08)" class="tl" text-anchor="end">-0.9</text>
<line x1="62.9" y1="1567.30" x2="75.3" y2="1567.30" stroke="#000" stroke-width="2.6" stroke-linecap="round"/>
<text transform="translate(52.5,1576.8) scale(1,1.08)" class="tl" text-anchor="end">-1.0</text>
<line x1="69.4" y1="935.99" x2="75.3" y2="935.99" stroke="#000" stroke-width="2.6" stroke-linecap="round"/>
<line x1="69.4" y1="1050.78" x2="75.3" y2="1050.78" stroke="#000" stroke-width="2.6" stroke-linecap="round"/>
<line x1="69.4" y1="1165.56" x2="75.3" y2="1165.56" stroke="#000" stroke-width="2.6" stroke-linecap="round"/>
<line x1="69.4" y1="1280.34" x2="75.3" y2="1280.34" stroke="#000" stroke-width="2.6" stroke-linecap="round"/>
<line x1="69.4" y1="1395.12" x2="75.3" y2="1395.12" stroke="#000" stroke-width="2.6" stroke-linecap="round"/>
<line x1="69.4" y1="1509.91" x2="75.3" y2="1509.91" stroke="#000" stroke-width="2.6" stroke-linecap="round"/>
<line x1="75.30" y1="1567.3" x2="75.30" y2="1580.6" stroke="#000" stroke-width="2.6" stroke-linecap="round"/>
<text transform="translate(75.3,1613.0) scale(1,1.08)" class="tl" text-anchor="middle">0.0</text>
<line x1="360.53" y1="1567.3" x2="360.53" y2="1580.6" stroke="#000" stroke-width="2.6" stroke-linecap="round"/>
<text transform="translate(360.5,1613.0) scale(1,1.08)" class="tl" text-anchor="middle">0.5</text>
<line x1="645.77" y1="1567.3" x2="645.77" y2="1580.6" stroke="#000" stroke-width="2.6" stroke-linecap="round"/>
<text transform="translate(645.8,1613.0) scale(1,1.08)" class="tl" text-anchor="middle">1.0</text>
<line x1="931.00" y1="1567.3" x2="931.00" y2="1580.6" stroke="#000" stroke-width="2.6" stroke-linecap="round"/>
<text transform="translate(931.0,1613.0) scale(1,1.08)" class="tl" text-anchor="middle">1.5</text>
<line x1="217.92" y1="1567.3" x2="217.92" y2="1573.1" stroke="#000" stroke-width="2.6" stroke-linecap="round"/>
<line x1="503.15" y1="1567.3" x2="503.15" y2="1573.1" stroke="#000" stroke-width="2.6" stroke-linecap="round"/>
<line x1="788.38" y1="1567.3" x2="788.38" y2="1573.1" stroke="#000" stroke-width="2.6" stroke-linecap="round"/>
<line x1="75.3" y1="878.1" x2="75.3" y2="1568.6" stroke="#000" stroke-width="3"/>
<line x1="73.8" y1="1567.3" x2="931.0" y2="1567.3" stroke="#000" stroke-width="3"/>
<text x="503.1" y="1617.2" class="ax" text-anchor="middle">y</text>
<text class="ax" text-anchor="middle" transform="translate(31.6,1165.6) rotate(-90) scale(1,1.06)">u</text>
<text x="118.5" y="930" class="pl">(c)</text>
<path d="M75.30,1139.40 L86.62,1139.35 L97.94,1139.22 L109.27,1138.99 L120.59,1138.67 L131.91,1138.27 L143.23,1137.77 L154.55,1137.18 L165.88,1136.50 L177.20,1135.72 L188.52,1134.86 L199.84,1133.91 L211.16,1132.86 L222.49,1131.73 L233.81,1130.50 L245.13,1129.19 L256.45,1127.78 L267.77,1126.28 L279.10,1124.69 L290.42,1123.01 L301.74,1121.24 L313.06,1119.38 L324.38,1117.43 L335.71,1115.39 L347.03,1113.26 L358.35,1111.03 L369.67,1108.72 L380.99,1106.31 L392.32,1103.81 L403.64,1101.23 L414.96,1098.55 L426.28,1095.78 L437.61,1092.92 L448.93,1089.97 L460.25,1086.93 L471.57,1083.80 L482.89,1080.58 L494.22,1077.26 L505.54,1073.86 L516.86,1070.36 L528.18,1066.78 L539.50,1063.10 L550.83,1059.33 L562.15,1055.48 L573.47,1051.53 L584.79,1047.49 L596.11,1043.36 L607.44,1039.14 L618.76,1034.82 L630.08,1030.42 L641.40,1025.93 L652.72,1021.34 L664.05,1016.67 L675.37,1011.90 L686.69,1007.04 L698.01,1002.10 L709.33,997.06 L720.66,991.93 L731.98,986.71 L743.30,981.40 L744.87,982.09 L746.44,982.87 L748.02,983.73 L749.59,984.66 L751.16,985.67 L752.73,986.74 L754.31,987.86 L755.88,989.04 L757.45,990.27 L759.02,991.54 L760.59,992.87 L762.17,994.31 L763.74,995.88 L765.31,997.56 L766.88,999.33 L768.46,1001.17 L770.03,1003.08 L771.60,1005.04 L773.17,1007.03 L774.75,1009.04 L776.32,1011.06 L777.89,1013.07 L779.46,1015.12 L781.03,1017.22 L782.61,1019.37 L784.18,1021.57 L785.75,1023.85 L787.32,1026.19 L788.90,1028.62 L790.47,1031.13 L792.04,1033.74 L793.61,1036.46 L795.18,1039.28 L796.76,1042.20 L798.33,1045.20 L799.90,1048.28 L801.47,1051.44 L803.05,1054.66 L804.62,1057.94 L806.19,1061.27 L807.76,1064.64 L809.34,1068.05 L810.91,1071.50 L812.48,1075.03 L814.05,1078.65 L815.62,1082.35 L817.20,1086.13 L818.77,1089.96 L820.34,1093.85 L821.91,1097.79 L823.49,1101.76 L825.06,1105.77 L826.63,1109.80 L828.20,1113.84 L829.77,1117.90 L831.35,1121.93 L832.92,1125.97 L834.49,1130.01 L836.06,1134.07 L837.64,1138.17 L839.21,1142.31 L840.78,1146.51 L842.35,1150.78 L843.93,1155.13 L845.50,1159.58 L847.07,1164.13 L848.64,1168.81 L850.21,1173.61 L851.79,1178.57 L853.36,1183.72 L854.93,1189.06 L856.50,1194.57 L858.08,1200.25 L859.65,1206.08 L861.22,1212.04 L862.79,1218.11 L864.36,1224.29 L865.94,1230.55 L867.51,1236.94 L869.08,1243.49 L870.65,1250.18 L872.23,1257.01 L873.80,1263.95 L875.37,1271.00 L876.94,1278.14 L878.52,1285.37 L880.09,1292.67 L881.66,1300.02 L883.23,1307.42 L884.80,1314.85 L886.38,1322.30 L887.95,1329.76 L889.52,1337.24 L891.09,1344.78 L892.67,1352.38 L894.24,1360.04 L895.81,1367.77 L897.38,1375.56 L898.95,1383.41 L900.53,1391.34 L902.10,1399.33 L903.67,1407.40 L905.24,1415.54 L906.82,1423.76 L908.39,1432.05 L909.96,1440.31 L911.53,1448.54 L913.11,1456.80 L914.68,1465.14 L916.25,1473.62 L917.82,1482.30 L919.39,1491.22 L920.97,1500.46 L922.54,1510.05 L924.11,1520.07 L925.68,1530.79 L927.26,1542.31 L928.83,1554.39 L930.40,1566.80" fill="none" stroke="#000000" stroke-width="4.8" stroke-linejoin="round"/>
<path d="M75.30,1067.90 L86.62,1067.90 L97.94,1067.89 L109.27,1067.87 L120.59,1067.85 L131.91,1067.83 L143.23,1067.80 L154.55,1067.76 L165.88,1067.72 L177.20,1067.67 L188.52,1067.62 L199.84,1067.56 L211.16,1067.49 L222.49,1067.42 L233.81,1067.34 L245.13,1067.26 L256.45,1067.17 L267.77,1067.08 L279.10,1066.98 L290.42,1066.87 L301.74,1066.76 L313.06,1066.65 L324.38,1066.52 L335.71,1066.40 L347.03,1066.26 L358.35,1066.12 L369.67,1065.98 L380.99,1065.83 L392.32,1065.67 L403.64,1065.51 L414.96,1065.34 L426.28,1065.17 L437.61,1064.99 L448.93,1064.80 L460.25,1064.61 L471.57,1064.42 L482.89,1064.21 L494.22,1064.01 L505.54,1063.79 L516.86,1063.57 L528.18,1063.35 L539.50,1063.12 L550.83,1062.88 L562.15,1062.64 L573.47,1062.39 L584.79,1062.14 L596.11,1061.88 L607.44,1061.62 L618.76,1061.35 L630.08,1061.07 L641.40,1060.79 L652.72,1060.50 L664.05,1060.21 L675.37,1059.91 L686.69,1059.61 L698.01,1059.30 L709.33,1058.98 L720.66,1058.66 L731.98,1058.33 L743.30,1058.00 L744.87,1059.66 L746.44,1061.37 L748.02,1063.13 L749.59,1064.95 L751.16,1066.81 L752.73,1068.72 L754.31,1070.69 L755.88,1072.70 L757.45,1074.76 L759.02,1076.87 L760.59,1079.03 L762.17,1081.24 L763.74,1083.49 L765.31,1085.79 L766.88,1088.13 L768.46,1090.52 L770.03,1092.96 L771.60,1095.44 L773.17,1097.96 L774.75,1100.53 L776.32,1103.14 L777.89,1105.80 L779.46,1108.50 L781.03,1111.24 L782.61,1114.02 L784.18,1116.85 L785.75,1119.72 L787.32,1122.62 L788.90,1125.57 L790.47,1128.57 L792.04,1131.60 L793.61,1134.67 L795.18,1137.79 L796.76,1140.94 L798.33,1144.13 L799.90,1147.37 L801.47,1150.64 L803.05,1153.96 L804.62,1157.31 L806.19,1160.70 L807.76,1164.14 L809.34,1167.61 L810.91,1171.12 L812.48,1174.67 L814.05,1178.26 L815.62,1181.89 L817.20,1185.56 L818.77,1189.26 L820.34,1193.01 L821.91,1196.79 L823.49,1200.62 L825.06,1204.48 L826.63,1208.39 L828.20,1212.33 L829.77,1216.31 L831.35,1220.33 L832.92,1224.39 L834.49,1228.49 L836.06,1232.63 L837.64,1236.81 L839.21,1241.04 L840.78,1245.30 L842.35,1249.60 L843.93,1253.94 L845.50,1258.33 L847.07,1262.75 L848.64,1267.22 L850.21,1271.73 L851.79,1276.28 L853.36,1280.87 L854.93,1285.50 L856.50,1290.18 L858.08,1294.90 L859.65,1299.67 L861.22,1304.47 L862.79,1309.33 L864.36,1314.22 L865.94,1319.17 L867.51,1324.15 L869.08,1329.19 L870.65,1334.26 L872.23,1339.39 L873.80,1344.56 L875.37,1349.78 L876.94,1355.05 L878.52,1360.37 L880.09,1365.73 L881.66,1371.15 L883.23,1376.61 L884.80,1382.12 L886.38,1387.69 L887.95,1393.31 L889.52,1398.98 L891.09,1404.70 L892.67,1410.47 L894.24,1416.30 L895.81,1422.18 L897.38,1428.12 L898.95,1434.12 L900.53,1440.17 L902.10,1446.27 L903.67,1452.44 L905.24,1458.66 L906.82,1464.95 L908.39,1471.29 L909.96,1477.69 L911.53,1484.16 L913.11,1490.68 L914.68,1497.27 L916.25,1503.93 L917.82,1510.64 L919.39,1517.43 L920.97,1524.27 L922.54,1531.19 L924.11,1538.17 L925.68,1545.22 L927.26,1552.35 L928.83,1559.54 L930.40,1566.80" fill="none" stroke="#ff0000" stroke-width="4.8" stroke-linejoin="round"/>
<path d="M75.30,985.50 L86.62,985.55 L97.94,985.69 L109.27,985.94 L120.59,986.27 L131.91,986.71 L143.23,987.24 L154.55,987.87 L165.88,988.60 L177.20,989.42 L188.52,990.34 L199.84,991.35 L211.16,992.47 L222.49,993.68 L233.81,994.98 L245.13,996.38 L256.45,997.88 L267.77,999.48 L279.10,1001.17 L290.42,1002.96 L301.74,1004.85 L313.06,1006.83 L324.38,1008.91 L335.71,1011.09 L347.03,1013.37 L358.35,1015.74 L369.67,1018.20 L380.99,1020.77 L392.32,1023.43 L403.64,1026.18 L414.96,1029.04 L426.28,1031.99 L437.61,1035.04 L448.93,1038.18 L460.25,1041.42 L471.57,1044.76 L482.89,1048.20 L494.22,1051.73 L505.54,1055.36 L516.86,1059.08 L528.18,1062.90 L539.50,1066.82 L550.83,1070.84 L562.15,1074.95 L573.47,1079.16 L584.79,1083.46 L596.11,1087.87 L607.44,1092.36 L618.76,1096.96 L630.08,1101.65 L641.40,1106.44 L652.72,1111.33 L664.05,1116.31 L675.37,1121.39 L686.69,1126.57 L698.01,1131.84 L709.33,1137.21 L720.66,1142.68 L731.98,1148.24 L743.30,1153.90 L744.87,1156.53 L746.44,1159.19 L748.02,1161.87 L749.59,1164.57 L751.16,1167.29 L752.73,1170.04 L754.31,1172.81 L755.88,1175.59 L757.45,1178.40 L759.02,1181.23 L760.59,1184.07 L762.17,1186.93 L763.74,1189.81 L765.31,1192.71 L766.88,1195.62 L768.46,1198.55 L770.03,1201.50 L771.60,1204.45 L773.17,1207.43 L774.75,1210.41 L776.32,1213.41 L777.89,1216.42 L779.46,1219.45 L781.03,1222.48 L782.61,1225.53 L784.18,1228.59 L785.75,1231.66 L787.32,1234.74 L788.90,1237.83 L790.47,1240.93 L792.04,1244.05 L793.61,1247.17 L795.18,1250.30 L796.76,1253.43 L798.33,1256.58 L799.90,1259.74 L801.47,1262.90 L803.05,1266.07 L804.62,1269.26 L806.19,1272.44 L807.76,1275.64 L809.34,1278.85 L810.91,1282.06 L812.48,1285.28 L814.05,1288.50 L815.62,1291.74 L817.20,1294.98 L818.77,1298.23 L820.34,1301.49 L821.91,1304.75 L823.49,1308.03 L825.06,1311.31 L826.63,1314.59 L828.20,1317.89 L829.77,1321.19 L831.35,1324.50 L832.92,1327.82 L834.49,1331.15 L836.06,1334.49 L837.64,1337.84 L839.21,1341.19 L840.78,1344.55 L842.35,1347.93 L843.93,1351.31 L845.50,1354.70 L847.07,1358.11 L848.64,1361.52 L850.21,1364.94 L851.79,1368.38 L853.36,1371.83 L854.93,1375.29 L856.50,1378.76 L858.08,1382.24 L859.65,1385.74 L861.22,1389.25 L862.79,1392.78 L864.36,1396.32 L865.94,1399.87 L867.51,1403.44 L869.08,1407.03 L870.65,1410.63 L872.23,1414.25 L873.80,1417.89 L875.37,1421.54 L876.94,1425.22 L878.52,1428.91 L880.09,1432.63 L881.66,1436.36 L883.23,1440.12 L884.80,1443.90 L886.38,1447.70 L887.95,1451.53 L889.52,1455.38 L891.09,1459.25 L892.67,1463.15 L894.24,1467.08 L895.81,1471.04 L897.38,1475.02 L898.95,1479.03 L900.53,1483.07 L902.10,1487.15 L903.67,1491.25 L905.24,1495.39 L906.82,1499.56 L908.39,1503.76 L909.96,1508.00 L911.53,1512.28 L913.11,1516.59 L914.68,1520.95 L916.25,1525.34 L917.82,1529.77 L919.39,1534.24 L920.97,1538.76 L922.54,1543.32 L924.11,1547.92 L925.68,1552.57 L927.26,1557.26 L928.83,1562.01 L930.40,1566.80" fill="none" stroke="#0000ff" stroke-width="4.8" stroke-linejoin="round"/>
<path d="M75.30,969.70 L86.62,969.76 L97.94,969.93 L109.27,970.23 L120.59,970.63 L131.91,971.16 L143.23,971.80 L154.55,972.56 L165.88,973.43 L177.20,974.43 L188.52,975.53 L199.84,976.76 L211.16,978.10 L222.49,979.56 L233.81,981.14 L245.13,982.83 L256.45,984.64 L267.77,986.56 L279.10,988.60 L290.42,990.76 L301.74,993.04 L313.06,995.43 L324.38,997.94 L335.71,1000.56 L347.03,1003.31 L358.35,1006.17 L369.67,1009.14 L380.99,1012.23 L392.32,1015.44 L403.64,1018.77 L414.96,1022.21 L426.28,1025.77 L437.61,1029.45 L448.93,1033.24 L460.25,1037.15 L471.57,1041.17 L482.89,1045.32 L494.22,1049.57 L505.54,1053.95 L516.86,1058.44 L528.18,1063.05 L539.50,1067.78 L550.83,1072.62 L562.15,1077.58 L573.47,1082.66 L584.79,1087.85 L596.11,1093.16 L607.44,1098.58 L618.76,1104.13 L630.08,1109.79 L641.40,1115.56 L652.72,1121.46 L664.05,1127.47 L675.37,1133.59 L686.69,1139.83 L698.01,1146.19 L709.33,1152.67 L720.66,1159.26 L731.98,1165.97 L743.30,1172.80 L744.87,1175.25 L746.44,1177.74 L748.02,1180.25 L749.59,1182.79 L751.16,1185.36 L752.73,1187.95 L754.31,1190.57 L755.88,1193.21 L757.45,1195.88 L759.02,1198.57 L760.59,1201.29 L762.17,1204.03 L763.74,1206.79 L765.31,1209.58 L766.88,1212.38 L768.46,1215.21 L770.03,1218.06 L771.60,1220.93 L773.17,1223.81 L774.75,1226.72 L776.32,1229.64 L777.89,1232.59 L779.46,1235.55 L781.03,1238.53 L782.61,1241.52 L784.18,1244.53 L785.75,1247.56 L787.32,1250.61 L788.90,1253.67 L790.47,1256.74 L792.04,1259.83 L793.61,1262.93 L795.18,1266.05 L796.76,1269.18 L798.33,1272.32 L799.90,1275.48 L801.47,1278.65 L803.05,1281.83 L804.62,1285.02 L806.19,1288.22 L807.76,1291.44 L809.34,1294.66 L810.91,1297.90 L812.48,1301.15 L814.05,1304.41 L815.62,1307.67 L817.20,1310.95 L818.77,1314.24 L820.34,1317.53 L821.91,1320.84 L823.49,1324.15 L825.06,1327.48 L826.63,1330.81 L828.20,1334.15 L829.77,1337.49 L831.35,1340.85 L832.92,1344.21 L834.49,1347.58 L836.06,1350.96 L837.64,1354.34 L839.21,1357.74 L840.78,1361.13 L842.35,1364.54 L843.93,1367.95 L845.50,1371.37 L847.07,1374.80 L848.64,1378.23 L850.21,1381.67 L851.79,1385.12 L853.36,1388.57 L854.93,1392.03 L856.50,1395.49 L858.08,1398.97 L859.65,1402.44 L861.22,1405.93 L862.79,1409.42 L864.36,1412.92 L865.94,1416.42 L867.51,1419.93 L869.08,1423.44 L870.65,1426.97 L872.23,1430.49 L873.80,1434.03 L875.37,1437.57 L876.94,1441.12 L878.52,1444.67 L880.09,1448.24 L881.66,1451.80 L883.23,1455.38 L884.80,1458.96 L886.38,1462.55 L887.95,1466.15 L889.52,1469.76 L891.09,1473.37 L892.67,1476.99 L894.24,1480.62 L895.81,1484.26 L897.38,1487.90 L898.95,1491.56 L900.53,1495.22 L902.10,1498.89 L903.67,1502.57 L905.24,1506.26 L906.82,1509.96 L908.39,1513.67 L909.96,1517.39 L911.53,1521.12 L913.11,1524.86 L914.68,1528.61 L916.25,1532.38 L917.82,1536.15 L919.39,1539.94 L920.97,1543.74 L922.54,1547.55 L924.11,1551.37 L925.68,1555.21 L927.26,1559.06 L928.83,1562.92 L930.40,1566.80" fill="none" stroke="#ff00ff" stroke-width="4.8" stroke-linejoin="round"/>
<rect x="89.3" y="1231.6" width="205.3" height="156.7" fill="#fff" stroke="#111" stroke-width="1.6"/>
<line x1="90" y1="1249.7" x2="161.8" y2="1249.7" stroke="#000000" stroke-width="5" stroke-linecap="round"/>
<text x="171" y="1260.4" class="lg" style="font-size:32px">Da=0.05</text>
<line x1="90" y1="1289.9" x2="161.8" y2="1289.9" stroke="#ff0000" stroke-width="5" stroke-linecap="round"/>
<text x="171" y="1300.6" class="lg" style="font-size:32px">Da=0.1</text>
<line x1="90" y1="1330.1" x2="161.8" y2="1330.1" stroke="#0000ff" stroke-width="5" stroke-linecap="round"/>
<text x="171" y="1340.8" class="lg" style="font-size:32px">Da=0.5</text>
<line x1="90" y1="1370.3" x2="161.8" y2="1370.3" stroke="#ff00ff" stroke-width="5" stroke-linecap="round"/>
<text x="171" y="1381.0" class="lg" style="font-size:32px">Da=1.0</text>
<line x1="1083.1" y1="880.0" x2="1938.4" y2="880.0" stroke="#333" stroke-width="1.3"/>
<line x1="1938.4" y1="880.3" x2="1938.4" y2="1569.7" stroke="#333" stroke-width="1.3"/>
<line x1="1070.7" y1="933.33" x2="1083.1" y2="933.33" stroke="#000" stroke-width="2.6" stroke-linecap="round"/>
<text transform="translate(1059.5,942.8) scale(1,1.08)" class="tl" text-anchor="end">-0.4</text>
<line x1="1070.7" y1="1039.39" x2="1083.1" y2="1039.39" stroke="#000" stroke-width="2.6" stroke-linecap="round"/>
<text transform="translate(1059.5,1048.9) scale(1,1.08)" class="tl" text-anchor="end">-0.5</text>
<line x1="1070.7" y1="1145.45" x2="1083.1" y2="1145.45" stroke="#000" stroke-width="2.6" stroke-linecap="round"/>
<text transform="translate(1059.5,1155.0) scale(1,1.08)" class="tl" text-anchor="end">-0.6</text>
<line x1="1070.7" y1="1251.52" x2="1083.1" y2="1251.52" stroke="#000" stroke-width="2.6" stroke-linecap="round"/>
<text transform="translate(1059.5,1261.0) scale(1,1.08)" class="tl" text-anchor="end">-0.7</text>
<line x1="1070.7" y1="1357.58" x2="1083.1" y2="1357.58" stroke="#000" stroke-width="2.6" stroke-linecap="round"/>
<text transform="translate(1059.5,1367.1) scale(1,1.08)" class="tl" text-anchor="end">-0.8</text>
<line x1="1070.7" y1="1463.64" x2="1083.1" y2="1463.64" stroke="#000" stroke-width="2.6" stroke-linecap="round"/>
<text transform="translate(1059.5,1473.1) scale(1,1.08)" class="tl" text-anchor="end">-0.9</text>
<line x1="1070.7" y1="1569.70" x2="1083.1" y2="1569.70" stroke="#000" stroke-width="2.6" stroke-linecap="round"/>
<text transform="translate(1059.5,1579.2) scale(1,1.08)" class="tl" text-anchor="end">-1.0</text>
<line x1="1077.2" y1="880.30" x2="1083.1" y2="880.30" stroke="#000" stroke-width="2.6" stroke-linecap="round"/>
<line x1="1077.2" y1="986.36" x2="1083.1" y2="986.36" stroke="#000" stroke-width="2.6" stroke-linecap="round"/>
<line x1="1077.2" y1="1092.42" x2="1083.1" y2="1092.42" stroke="#000" stroke-width="2.6" stroke-linecap="round"/>
<line x1="1077.2" y1="1198.48" x2="1083.1" y2="1198.48" stroke="#000" stroke-width="2.6" stroke-linecap="round"/>
<line x1="1077.2" y1="1304.55" x2="1083.1" y2="1304.55" stroke="#000" stroke-width="2.6" stroke-linecap="round"/>
<line x1="1077.2" y1="1410.61" x2="1083.1" y2="1410.61" stroke="#000" stroke-width="2.6" stroke-linecap="round"/>
<line x1="1077.2" y1="1516.67" x2="1083.1" y2="1516.67" stroke="#000" stroke-width="2.6" stroke-linecap="round"/>
<line x1="1083.10" y1="1569.7" x2="1083.10" y2="1583.0" stroke="#000" stroke-width="2.6" stroke-linecap="round"/>
<text transform="translate(1083.1,1614.8) scale(1,1.08)" class="tl" text-anchor="middle">0.0</text>
<line x1="1368.20" y1="1569.7" x2="1368.20" y2="1583.0" stroke="#000" stroke-width="2.6" stroke-linecap="round"/>
<text transform="translate(1368.2,1614.8) scale(1,1.08)" class="tl" text-anchor="middle">0.5</text>
<line x1="1653.30" y1="1569.7" x2="1653.30" y2="1583.0" stroke="#000" stroke-width="2.6" stroke-linecap="round"/>
<text transform="translate(1653.3,1614.8) scale(1,1.08)" class="tl" text-anchor="middle">1.0</text>
<line x1="1938.40" y1="1569.7" x2="1938.40" y2="1583.0" stroke="#000" stroke-width="2.6" stroke-linecap="round"/>
<text transform="translate(1938.4,1614.8) scale(1,1.08)" class="tl" text-anchor="middle">1.5</text>
<line x1="1225.65" y1="1569.7" x2="1225.65" y2="1575.5" stroke="#000" stroke-width="2.6" stroke-linecap="round"/>
<line x1="1510.75" y1="1569.7" x2="1510.75" y2="1575.5" stroke="#000" stroke-width="2.6" stroke-linecap="round"/>
<line x1="1795.85" y1="1569.7" x2="1795.85" y2="1575.5" stroke="#000" stroke-width="2.6" stroke-linecap="round"/>
<line x1="1083.1" y1="879.8" x2="1083.1" y2="1571.0" stroke="#000" stroke-width="3"/>
<line x1="1081.6" y1="1569.7" x2="1938.4" y2="1569.7" stroke="#000" stroke-width="3"/>
<text x="1510.8" y="1618" class="ax" text-anchor="middle">y</text>
<text class="ax" text-anchor="middle" transform="translate(1049.6,1197.85) rotate(-90) scale(1,1.06)">u</text>
<text x="1177.5" y="930" class="pl">(d)</text>
<path d="M1083.10,1018.10 L1094.41,1018.15 L1105.72,1018.32 L1117.04,1018.58 L1128.35,1018.96 L1139.66,1019.45 L1150.97,1020.04 L1162.28,1020.74 L1173.59,1021.55 L1184.91,1022.46 L1196.22,1023.48 L1207.53,1024.61 L1218.84,1025.85 L1230.15,1027.20 L1241.47,1028.65 L1252.78,1030.21 L1264.09,1031.88 L1275.40,1033.66 L1286.71,1035.54 L1298.03,1037.53 L1309.34,1039.63 L1320.65,1041.84 L1331.96,1044.16 L1343.27,1046.58 L1354.58,1049.11 L1365.90,1051.75 L1377.21,1054.49 L1388.52,1057.35 L1399.83,1060.31 L1411.14,1063.38 L1422.46,1066.55 L1433.77,1069.84 L1445.08,1073.23 L1456.39,1076.73 L1467.70,1080.33 L1479.02,1084.05 L1490.33,1087.87 L1501.64,1091.80 L1512.95,1095.84 L1524.26,1099.98 L1535.57,1104.24 L1546.89,1108.60 L1558.20,1113.07 L1569.51,1117.64 L1580.82,1122.32 L1592.13,1127.12 L1603.45,1132.02 L1614.76,1137.02 L1626.07,1142.14 L1637.38,1147.36 L1648.69,1152.69 L1660.01,1158.13 L1671.32,1163.67 L1682.63,1169.32 L1693.94,1175.08 L1705.25,1180.95 L1716.56,1186.93 L1727.88,1193.01 L1739.19,1199.20 L1750.50,1205.50 L1753.67,1210.90 L1756.85,1216.30 L1760.02,1221.71 L1763.20,1227.14 L1766.37,1232.57 L1769.55,1238.01 L1772.72,1243.46 L1775.90,1248.93 L1779.07,1254.41 L1782.25,1259.90 L1785.42,1265.41 L1788.59,1270.94 L1791.77,1276.48 L1794.94,1282.05 L1798.12,1287.63 L1801.29,1293.24 L1804.47,1298.87 L1807.64,1304.52 L1810.82,1310.19 L1813.99,1315.89 L1817.17,1321.62 L1820.34,1327.38 L1823.52,1333.16 L1826.69,1338.97 L1829.86,1344.81 L1833.04,1350.69 L1836.21,1356.59 L1839.39,1362.53 L1842.56,1368.51 L1845.74,1374.52 L1848.91,1380.57 L1852.09,1386.65 L1855.26,1392.78 L1858.44,1398.94 L1861.61,1405.14 L1864.78,1411.39 L1867.96,1417.68 L1871.13,1424.01 L1874.31,1430.39 L1877.48,1436.81 L1880.66,1443.29 L1883.83,1449.80 L1887.01,1456.37 L1890.18,1462.99 L1893.36,1469.66 L1896.53,1476.38 L1899.71,1483.16 L1902.88,1489.99 L1906.05,1496.87 L1909.23,1503.82 L1912.40,1510.81 L1915.58,1517.87 L1918.75,1524.99 L1921.93,1532.17 L1925.10,1539.41 L1928.28,1546.71 L1931.45,1554.07 L1934.63,1561.50 L1937.80,1569.00" fill="none" stroke="#000000" stroke-width="5.2" stroke-linejoin="round"/>
<path d="M1083.10,978.20 L1094.41,978.28 L1105.72,978.52 L1117.04,978.93 L1128.35,979.50 L1139.66,980.23 L1150.97,981.12 L1162.28,982.17 L1173.59,983.39 L1184.91,984.77 L1196.22,986.31 L1207.53,988.01 L1218.84,989.88 L1230.15,991.91 L1241.47,994.10 L1252.78,996.45 L1264.09,998.96 L1275.40,1001.64 L1286.71,1004.48 L1298.03,1007.48 L1309.34,1010.64 L1320.65,1013.96 L1331.96,1017.45 L1343.27,1021.10 L1354.58,1024.91 L1365.90,1028.89 L1377.21,1033.02 L1388.52,1037.32 L1399.83,1041.78 L1411.14,1046.40 L1422.46,1051.19 L1433.77,1056.13 L1445.08,1061.24 L1456.39,1066.52 L1467.70,1071.95 L1479.02,1077.54 L1490.33,1083.30 L1501.64,1089.22 L1512.95,1095.30 L1524.26,1101.55 L1535.57,1107.96 L1546.89,1114.52 L1558.20,1121.26 L1569.51,1128.15 L1580.82,1135.20 L1592.13,1142.42 L1603.45,1149.80 L1614.76,1157.34 L1626.07,1165.05 L1637.38,1172.91 L1648.69,1180.94 L1660.01,1189.13 L1671.32,1197.49 L1682.63,1206.00 L1693.94,1214.68 L1705.25,1223.52 L1716.56,1232.52 L1727.88,1241.69 L1739.19,1251.01 L1750.50,1260.50 L1753.67,1264.73 L1756.85,1269.00 L1760.02,1273.30 L1763.20,1277.65 L1766.37,1282.02 L1769.55,1286.44 L1772.72,1290.89 L1775.90,1295.37 L1779.07,1299.89 L1782.25,1304.45 L1785.42,1309.04 L1788.59,1313.67 L1791.77,1318.33 L1794.94,1323.03 L1798.12,1327.76 L1801.29,1332.53 L1804.47,1337.33 L1807.64,1342.17 L1810.82,1347.04 L1813.99,1351.95 L1817.17,1356.89 L1820.34,1361.87 L1823.52,1366.88 L1826.69,1371.92 L1829.86,1377.00 L1833.04,1382.11 L1836.21,1387.25 L1839.39,1392.43 L1842.56,1397.64 L1845.74,1402.89 L1848.91,1408.17 L1852.09,1413.48 L1855.26,1418.82 L1858.44,1424.20 L1861.61,1429.61 L1864.78,1435.06 L1867.96,1440.53 L1871.13,1446.04 L1874.31,1451.58 L1877.48,1457.15 L1880.66,1462.76 L1883.83,1468.39 L1887.01,1474.06 L1890.18,1479.76 L1893.36,1485.49 L1896.53,1491.26 L1899.71,1497.05 L1902.88,1502.88 L1906.05,1508.74 L1909.23,1514.62 L1912.40,1520.54 L1915.58,1526.49 L1918.75,1532.48 L1921.93,1538.49 L1925.10,1544.53 L1928.28,1550.60 L1931.45,1556.70 L1934.63,1562.84 L1937.80,1569.00" fill="none" stroke="#ff0000" stroke-width="5.2" stroke-linejoin="round"/>
<path d="M1083.10,954.50 L1094.41,954.60 L1105.72,954.89 L1117.04,955.38 L1128.35,956.06 L1139.66,956.94 L1150.97,958.01 L1162.28,959.28 L1173.59,960.74 L1184.91,962.40 L1196.22,964.25 L1207.53,966.30 L1218.84,968.54 L1230.15,970.98 L1241.47,973.62 L1252.78,976.44 L1264.09,979.47 L1275.40,982.69 L1286.71,986.10 L1298.03,989.71 L1309.34,993.51 L1320.65,997.51 L1331.96,1001.70 L1343.27,1006.09 L1354.58,1010.68 L1365.90,1015.46 L1377.21,1020.43 L1388.52,1025.60 L1399.83,1030.96 L1411.14,1036.52 L1422.46,1042.28 L1433.77,1048.23 L1445.08,1054.37 L1456.39,1060.71 L1467.70,1067.24 L1479.02,1073.97 L1490.33,1080.90 L1501.64,1088.02 L1512.95,1095.33 L1524.26,1102.84 L1535.57,1110.55 L1546.89,1118.45 L1558.20,1126.54 L1569.51,1134.83 L1580.82,1143.32 L1592.13,1152.00 L1603.45,1160.87 L1614.76,1169.94 L1626.07,1179.21 L1637.38,1188.67 L1648.69,1198.32 L1660.01,1208.17 L1671.32,1218.22 L1682.63,1228.46 L1693.94,1238.90 L1705.25,1249.53 L1716.56,1260.35 L1727.88,1271.37 L1739.19,1282.59 L1750.50,1294.00 L1753.67,1297.73 L1756.85,1301.51 L1760.02,1305.32 L1763.20,1309.18 L1766.37,1313.07 L1769.55,1317.00 L1772.72,1320.97 L1775.90,1324.97 L1779.07,1329.02 L1782.25,1333.09 L1785.42,1337.21 L1788.59,1341.36 L1791.77,1345.55 L1794.94,1349.77 L1798.12,1354.02 L1801.29,1358.31 L1804.47,1362.64 L1807.64,1366.99 L1810.82,1371.38 L1813.99,1375.80 L1817.17,1380.26 L1820.34,1384.74 L1823.52,1389.26 L1826.69,1393.81 L1829.86,1398.38 L1833.04,1402.99 L1836.21,1407.63 L1839.39,1412.29 L1842.56,1416.99 L1845.74,1421.71 L1848.91,1426.46 L1852.09,1431.24 L1855.26,1436.04 L1858.44,1440.87 L1861.61,1445.73 L1864.78,1450.61 L1867.96,1455.52 L1871.13,1460.45 L1874.31,1465.40 L1877.48,1470.38 L1880.66,1475.39 L1883.83,1480.42 L1887.01,1485.47 L1890.18,1490.54 L1893.36,1495.63 L1896.53,1500.75 L1899.71,1505.88 L1902.88,1511.04 L1906.05,1516.22 L1909.23,1521.41 L1912.40,1526.63 L1915.58,1531.86 L1918.75,1537.12 L1921.93,1542.39 L1925.10,1547.68 L1928.28,1552.98 L1931.45,1558.31 L1934.63,1563.64 L1937.80,1569.00" fill="none" stroke="#0000ff" stroke-width="5.2" stroke-linejoin="round"/>
<path d="M1083.10,938.30 L1094.41,938.41 L1105.72,938.73 L1117.04,939.27 L1128.35,940.03 L1139.66,941.01 L1150.97,942.20 L1162.28,943.61 L1173.59,945.23 L1184.91,947.07 L1196.22,949.13 L1207.53,951.40 L1218.84,953.89 L1230.15,956.60 L1241.47,959.52 L1252.78,962.66 L1264.09,966.02 L1275.40,969.59 L1286.71,973.38 L1298.03,977.39 L1309.34,981.61 L1320.65,986.05 L1331.96,990.70 L1343.27,995.58 L1354.58,1000.67 L1365.90,1005.97 L1377.21,1011.49 L1388.52,1017.23 L1399.83,1023.19 L1411.14,1029.36 L1422.46,1035.75 L1433.77,1042.35 L1445.08,1049.17 L1456.39,1056.21 L1467.70,1063.46 L1479.02,1070.94 L1490.33,1078.62 L1501.64,1086.53 L1512.95,1094.65 L1524.26,1102.98 L1535.57,1111.54 L1546.89,1120.31 L1558.20,1129.29 L1569.51,1138.50 L1580.82,1147.92 L1592.13,1157.55 L1603.45,1167.41 L1614.76,1177.48 L1626.07,1187.76 L1637.38,1198.26 L1648.69,1208.98 L1660.01,1219.92 L1671.32,1231.07 L1682.63,1242.44 L1693.94,1254.03 L1705.25,1265.83 L1716.56,1277.85 L1727.88,1290.08 L1739.19,1302.53 L1750.50,1315.20 L1753.67,1318.58 L1756.85,1322.01 L1760.02,1325.48 L1763.20,1329.00 L1766.37,1332.57 L1769.55,1336.18 L1772.72,1339.83 L1775.90,1343.52 L1779.07,1347.26 L1782.25,1351.04 L1785.42,1354.85 L1788.59,1358.71 L1791.77,1362.60 L1794.94,1366.54 L1798.12,1370.51 L1801.29,1374.51 L1804.47,1378.55 L1807.64,1382.62 L1810.82,1386.73 L1813.99,1390.87 L1817.17,1395.04 L1820.34,1399.25 L1823.52,1403.48 L1826.69,1407.74 L1829.86,1412.03 L1833.04,1416.35 L1836.21,1420.70 L1839.39,1425.07 L1842.56,1429.46 L1845.74,1433.88 L1848.91,1438.33 L1852.09,1442.80 L1855.26,1447.28 L1858.44,1451.79 L1861.61,1456.32 L1864.78,1460.87 L1867.96,1465.44 L1871.13,1470.03 L1874.31,1474.63 L1877.48,1479.25 L1880.66,1483.89 L1883.83,1488.54 L1887.01,1493.20 L1890.18,1497.88 L1893.36,1502.56 L1896.53,1507.26 L1899.71,1511.97 L1902.88,1516.69 L1906.05,1521.42 L1909.23,1526.15 L1912.40,1530.90 L1915.58,1535.65 L1918.75,1540.40 L1921.93,1545.16 L1925.10,1549.92 L1928.28,1554.69 L1931.45,1559.46 L1934.63,1564.23 L1937.80,1569.00" fill="none" stroke="#ff00ff" stroke-width="5.2" stroke-linejoin="round"/>
<rect x="1726.9" y="897.3" width="193.5" height="189.1" fill="#fff" stroke="#111" stroke-width="1.6"/>
<line x1="1728" y1="921.0" x2="1806.6" y2="921.0" stroke="#000000" stroke-width="5.4" stroke-linecap="round"/>
<text x="1818.5" y="934.0" class="sy" style="font-size:35px">μ</text>
<text transform="translate(1844.7,935.3) scale(1.16,0.89)" class="sy" style="font-size:35px">=</text>
<text x="1865.5" y="934.0" class="sy" style="font-size:35px">0.5</text>
<line x1="1728" y1="969.5" x2="1806.6" y2="969.5" stroke="#ff0000" stroke-width="5.4" stroke-linecap="round"/>
<text x="1818.5" y="982.5" class="sy" style="font-size:35px">μ</text>
<text transform="translate(1844.7,983.8) scale(1.16,0.89)" class="sy" style="font-size:35px">=</text>
<text x="1865.5" y="982.5" class="sy" style="font-size:35px">1.0</text>
<line x1="1728" y1="1018.0" x2="1806.6" y2="1018.0" stroke="#0000ff" stroke-width="5.4" stroke-linecap="round"/>
<text x="1818.5" y="1031.0" class="sy" style="font-size:35px">μ</text>
<text transform="translate(1844.7,1032.3) scale(1.16,0.89)" class="sy" style="font-size:35px">=</text>
<text x="1865.5" y="1031.0" class="sy" style="font-size:35px">1.5</text>
<line x1="1728" y1="1066.5" x2="1806.6" y2="1066.5" stroke="#ff00ff" stroke-width="5.4" stroke-linecap="round"/>
<text x="1818.5" y="1079.5" class="sy" style="font-size:35px">μ</text>
<text transform="translate(1844.7,1080.8) scale(1.16,0.89)" class="sy" style="font-size:35px">=</text>
<text x="1865.5" y="1079.5" class="sy" style="font-size:35px">2.0</text>
</svg></body></html>
